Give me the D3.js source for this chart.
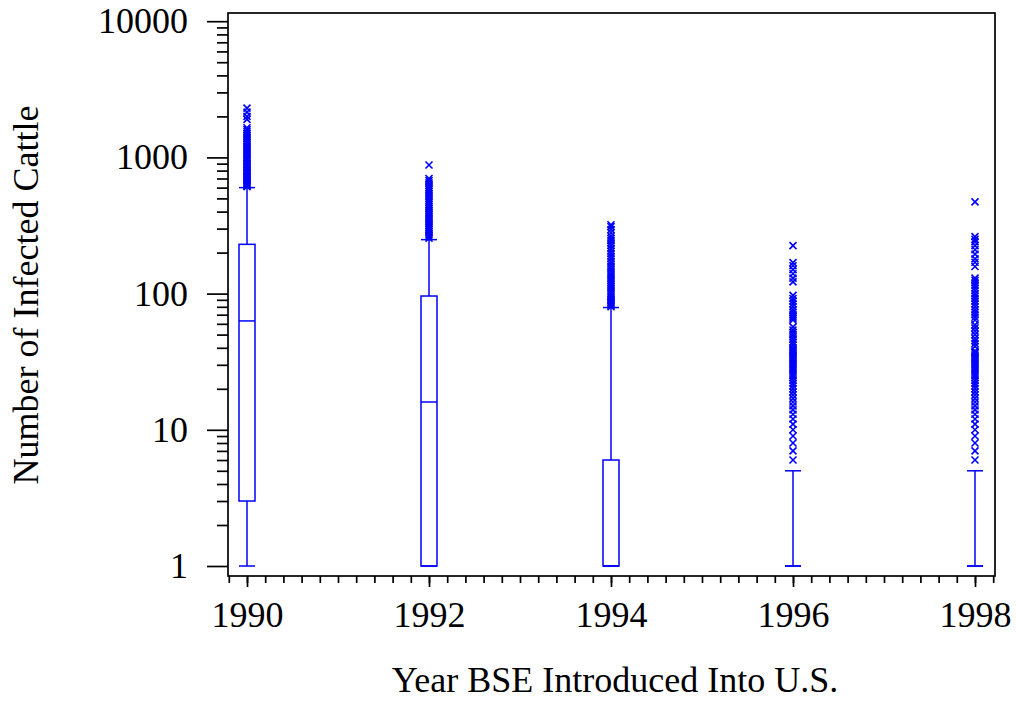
<!DOCTYPE html>
<html>
<head>
<meta charset="utf-8">
<script src="https://cdn.jsdelivr.net/npm/d3@7/dist/d3.min.js"></script>
<style>
html,body{margin:0;padding:0;background:#fff;}
svg{display:block;}
text{font-family:"Liberation Serif","Times New Roman",serif;fill:#000;}
</style>
</head>
<body>
<svg id="chart" width="1016" height="701"></svg>
<script>
const years = [1990, 1992, 1994, 1996, 1998];
const q1 = [3, 1, 1, 1, 1];
const medians = [63, 16, 1, 1, 1];
const q3 = [230, 96, 6, 1, 1];
const whiskerLow = [1, 1, 1, 1, 1];
const whiskerHigh = [600, 249, 79, 5, 5];

const outliers1990 = [610,620,630,640,650,665,680,695,710,725,740,760,780,800,820,840,860,880,900,925,950,975,1000,1030,1060,1090,1120,1150,1180,1210,1250,1290,1330,1370,1410,1450,1500,1550,1600,1650,1900,2000,2150,2300];
const outliers1992 = [255,262,270,278,286,295,305,315,325,335,345,355,365,378,390,405,420,435,450,465,480,500,520,540,560,580,600,625,650,675,700,880];
const outliers1994 = [80,82,84,86,88,90,93,96,100,104,108,112,116,120,125,130,135,140,146,152,158,165,172,180,188,196,205,215,225,235,245,255,265,280,295,310,320];
const outliers1996 = [6,7,8,9,10,11,12,13,14,15,16,17,18,19,20,21,22,23,24,25,26,27,28,29,30,31,32,33,34,35,36,37,38,39,40,42,44,46,48,50,52,54,57,64,66,68,70,73,76,80,84,88,92,97,122,130,140,150,160,169,225];
const outliers1998 = [6,7,8,9,10,11,12,13,14,15,16,17,18,19,20,21,22,23,24,25,26,27,28,29,30,31,32,33,34,35,36,37,38,41,43,45,47,50,53,56,59,64,67,70,73,76,80,84,88,92,96,100,105,110,115,120,125,130,158,170,180,195,210,225,240,250,262,471];
const outliers = [outliers1990, outliers1992, outliers1994, outliers1996, outliers1998];

const yTickValues = [1, 10, 100, 1000, 10000];
const yTickLabels = ["1", "10", "100", "1000", "10000"];
const xTickValues = [1990, 1992, 1994, 1996, 1998];
const xTickLabels = ["1990", "1992", "1994", "1996", "1998"];
const xTitle = "Year BSE Introduced Into U.S.";
const yTitle = "Number of Infected Cattle";

const svg = d3.select("#chart");
const frame = {left: 228, right: 995, top: 13, bottom: 576};
const blue = "#0000ff";
const fontSize = "36px";

const x = d3.scaleLinear().domain([1990, 1998]).range([247, 975]);
const y = d3.scaleLog().domain([1, 10000]).range([566, 21.2]);

// frame
svg.append("rect")
  .attr("x", frame.left).attr("y", frame.top)
  .attr("width", frame.right - frame.left).attr("height", frame.bottom - frame.top)
  .attr("fill", "none").attr("stroke", "#000").attr("stroke-width", 1.7);

// y minor ticks
const yMinor = [];
for (let d = 1; d < 10000; d *= 10) for (let k = 2; k <= 9; k++) yMinor.push(d * k);
const yMinorAxis = d3.axisLeft(y).tickValues(yMinor).tickSize(11).tickFormat("");
const gyMinor = svg.append("g").attr("transform", `translate(${frame.left},0)`).call(yMinorAxis);
gyMinor.select(".domain").remove();
gyMinor.selectAll("line").attr("stroke-width", 1.7);

const yMajorAxis = d3.axisLeft(y).tickValues(yTickValues).tickSize(21).tickPadding(19)
  .tickFormat((d, i) => yTickLabels[i]);
const gyMajor = svg.append("g").attr("transform", `translate(${frame.left},0)`).call(yMajorAxis);
gyMajor.select(".domain").remove();
gyMajor.selectAll("line").attr("stroke-width", 1.7);
gyMajor.selectAll("text").style("font-size", fontSize).attr("font-family", null);

// x minor ticks
const xMinor = [];
for (let i = 0; i <= 42; i++) {
  const v = 1989.8 + i * 0.2;
  if (v <= 1998.21) xMinor.push(+v.toFixed(1));
}
const xMinorAxis = d3.axisBottom(x).tickValues(xMinor).tickSize(7).tickFormat("");
const gxMinor = svg.append("g").attr("transform", `translate(0,${frame.bottom})`).call(xMinorAxis);
gxMinor.select(".domain").remove();
gxMinor.selectAll("line").attr("stroke-width", 1.7);

const xMajorAxis = d3.axisBottom(x).tickValues(xTickValues).tickSize(11).tickPadding(14)
  .tickFormat((d, i) => xTickLabels[i]);
const gxMajor = svg.append("g").attr("transform", `translate(0,${frame.bottom})`).call(xMajorAxis);
gxMajor.select(".domain").remove();
gxMajor.selectAll("line").attr("stroke-width", 1.7);
gxMajor.selectAll("text").style("font-size", fontSize).attr("font-family", null);

// titles
svg.append("text").attr("x", 615).attr("y", 692).attr("text-anchor", "middle")
  .style("font-size", fontSize).text(xTitle);
svg.append("text").attr("transform", "translate(38,295) rotate(-90)").attr("text-anchor", "middle")
  .style("font-size", fontSize).text(yTitle);

// boxes
const hw = 8;
const g = svg.append("g").attr("stroke", blue).attr("fill", "none").attr("stroke-width", 1.5);
years.forEach((yr, i) => {
  const cx = x(yr);
  if (whiskerHigh[i] > q3[i]) {
    g.append("line").attr("x1", cx).attr("x2", cx).attr("y1", y(q3[i])).attr("y2", y(whiskerHigh[i]));
  }
  g.append("line").attr("x1", cx - hw).attr("x2", cx + hw).attr("y1", y(whiskerHigh[i])).attr("y2", y(whiskerHigh[i]));
  if (whiskerLow[i] < q1[i]) {
    g.append("line").attr("x1", cx).attr("x2", cx).attr("y1", y(q1[i])).attr("y2", y(whiskerLow[i]));
  }
  g.append("line").attr("x1", cx - hw).attr("x2", cx + hw).attr("y1", y(whiskerLow[i])).attr("y2", y(whiskerLow[i]));
  if (q3[i] > q1[i]) {
    g.append("rect").attr("x", cx - hw).attr("width", 2 * hw)
      .attr("y", y(q3[i])).attr("height", y(q1[i]) - y(q3[i]));
  }
  g.append("line").attr("x1", cx - hw).attr("x2", cx + hw).attr("y1", y(medians[i])).attr("y2", y(medians[i]));
  const s = 3.5;
  outliers[i].forEach(v => {
    const py = y(v);
    g.append("path").attr("d", `M${cx - s},${py - s}L${cx + s},${py + s}M${cx - s},${py + s}L${cx + s},${py - s}`)
      .attr("stroke-width", 1.6);
  });
});
</script>
</body>
</html>
